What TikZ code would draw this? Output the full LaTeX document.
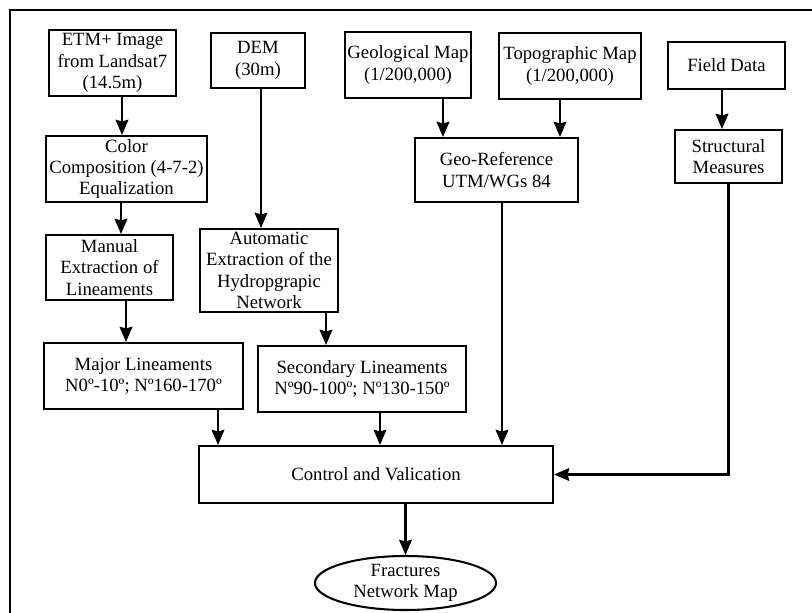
\documentclass[tikz,border=0pt]{standalone}
\usepackage{fontspec}
\setmainfont{Liberation Serif}
\usetikzlibrary{shapes.geometric,arrows.meta}
\begin{document}
\begin{tikzpicture}[x=0.025cm, y=-0.025cm, line width=1.45pt,
  box/.style={draw, rectangle, align=center, inner sep=0pt, font=\fontsize{13.3}{15.2}\selectfont},
  oval/.style={draw, ellipse, align=center, inner sep=0pt, font=\fontsize{13.3}{15.2}\selectfont},
  arr/.style={-{Stealth[length=0.38cm,width=0.32cm,inset=0.04cm]}}]
\clip (0,0) rectangle (812,613);
\draw (10,640) |- (840,10);
\node [box, minimum width=3.175cm, minimum height=1.65cm] (etm) at (112.5,63) {ETM+ Image\\from Landsat7\\(14.5m)};
\node [box, minimum width=2.35cm, minimum height=1.375cm] (dem) at (258,60.5) {DEM\\(30m)};
\node [box, minimum width=3.15cm, minimum height=1.65cm] (geol) at (408,65) {Geological Map\\(1/200,000)};
\node [box, minimum width=3.55cm, minimum height=1.65cm] (topo) at (570,66) {Topographic Map\\(1/200,000)};
\node [box, minimum width=2.925cm, minimum height=1.175cm] (field) at (726.5,65.5) {Field Data};
\node [box, minimum width=4.025cm, minimum height=1.65cm] (color) at (126.5,169) {Color\\Composition (4-7-2)\\Equalization};
\node [box, minimum width=3.175cm, minimum height=1.625cm] (manual) at (109.5,267.5) {Manual\\Extraction of\\Lineaments};
\node [box, minimum width=3.45cm, minimum height=2.075cm] (auto) at (269,270.5) {Automatic\\Extraction of the\\Hydropgrapic\\Network};
\node [box, minimum width=4.075cm, minimum height=1.6cm] (georef) at (496.5,170) {Geo-Reference\\UTM/WGs 84};
\node [box, minimum width=2.675cm, minimum height=1.325cm] (struct) at (728.5,156.5) {Structural\\Measures};
\node [box, minimum width=4.975cm, minimum height=1.65cm] (major) at (143.5,376) {Major Lineaments\\N0º-10º; Nº160-170º};
\node [box, minimum width=5.2cm, minimum height=1.65cm] (second) at (362,379) {Secondary Lineaments\\Nº90-100º; Nº130-150º};
\node [box, minimum width=8.85cm, minimum height=1.425cm] (control) at (376,474.5) {Control and Valication};
\node [oval, minimum width=4.525cm, minimum height=1.35cm] (fract) at (405.5,583) {Fractures\\Network Map};

\draw[arr] (etm.south -| 122,0) -- (color.north -| 122,0);
\draw[arr] (color.south -| 121,0) -- (manual.north -| 121,0);
\draw[arr] (manual.south -| 126,0) -- (major.north -| 126,0);
\draw[arr] (dem.south -| 261,0) -- (auto.north -| 261,0);
\draw[arr] (auto.south -| 326,0) -- (second.north -| 326,0);
\draw[arr] (geol.south -| 443,0) -- (georef.north -| 443,0);
\draw[arr] (topo.south -| 560,0) -- (georef.north -| 560,0);
\draw[arr] (field.south -| 722,0) -- (struct.north -| 722,0);
\draw[arr] (major.south -| 218,0) -- (control.north -| 218,0);
\draw[arr] (second.south -| 380,0) -- (control.north -| 380,0);
\draw[arr] (georef.south -| 502,0) -- (control.north -| 502,0);
\draw[arr] (struct.south) |- (control.east);
\draw[arr] (control.south -| fract.north) -- (fract.north);
\end{tikzpicture}
\end{document}
